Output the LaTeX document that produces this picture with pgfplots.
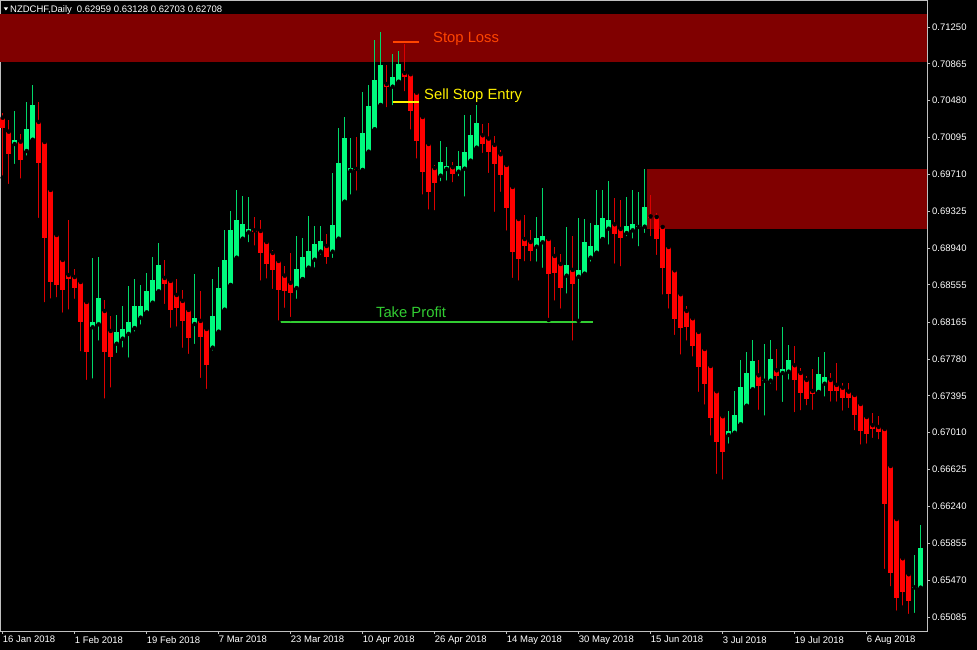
\documentclass[border=0pt]{standalone}
\usepackage{fontspec}
\setmainfont{Liberation Sans}
\usepackage{pgfplots}
\usepackage{pgfplotstable}
\pgfplotsset{compat=1.18}

\definecolor{bull}{RGB}{0,250,125}
\definecolor{bullwick}{RGB}{0,215,105}
\definecolor{bear}{RGB}{255,0,0}
\definecolor{bearwick}{RGB}{220,0,0}
\definecolor{zone}{RGB}{128,0,0}
\definecolor{framecol}{RGB}{192,192,192}
\definecolor{slred}{RGB}{255,69,0}
\definecolor{tpgreen}{RGB}{50,205,50}

% daily bars, x = bar index (0 = 16 Jan 2018)
\pgfplotstableread{
x o h l c
2 0.70027 0.70375 0.69797 0.70069
4 0.69954 0.70469 0.69884 0.70187
5 0.70072 0.70644 0.70065 0.70438
15 0.68112 0.68836 0.67554 0.68170
16 0.68143 0.68843 0.67951 0.68418
19 0.67940 0.68240 0.67822 0.68063
20 0.67993 0.68334 0.67878 0.68094
21 0.68042 0.68546 0.67773 0.68167
22 0.68104 0.68616 0.68045 0.68334
23 0.68212 0.68554 0.68118 0.68334
24 0.68268 0.68682 0.68260 0.68491
25 0.68369 0.68846 0.68360 0.68606
26 0.68488 0.68993 0.68480 0.68763
32 0.68146 0.68669 0.67916 0.68209
35 0.67899 0.68620 0.67846 0.68230
36 0.68066 0.68739 0.68060 0.68519
37 0.68296 0.69129 0.68290 0.68815
38 0.68554 0.69327 0.68550 0.69129
39 0.68839 0.69543 0.68830 0.69233
40 0.69038 0.69484 0.69030 0.69188
41 0.69104 0.69473 0.68979 0.69139
49 0.68522 0.69066 0.68387 0.68721
50 0.68616 0.69045 0.68610 0.68846
51 0.68735 0.69275 0.68693 0.68909
52 0.68818 0.69170 0.68714 0.68982
53 0.68902 0.69170 0.68849 0.69014
55 0.68902 0.69727 0.68815 0.69181
56 0.69038 0.70191 0.69030 0.69826
57 0.69424 0.70309 0.69420 0.70087
58 0.69748 0.70087 0.69477 0.69773
60 0.69756 0.70574 0.69750 0.70145
61 0.69947 0.70644 0.69940 0.70424
62 0.70181 0.71114 0.70175 0.70696
63 0.70435 0.71201 0.70430 0.70853
65 0.70626 0.70968 0.70411 0.70724
66 0.70678 0.70999 0.70670 0.70863
73 0.69696 0.70055 0.69616 0.69839
74 0.69766 0.69993 0.69623 0.69797
76 0.69738 0.69957 0.69669 0.69800
77 0.69769 0.70330 0.69456 0.69944
78 0.69853 0.70330 0.69845 0.70121
79 0.69989 0.70435 0.69980 0.70250
89 0.68954 0.69264 0.68776 0.69045
90 0.69000 0.69567 0.68711 0.69066
94 0.68651 0.69163 0.68442 0.68763
96 0.68640 0.69257 0.68178 0.68714
97 0.68672 0.69243 0.68665 0.69000
98 0.68839 0.69202 0.68776 0.68961
99 0.68891 0.69547 0.68885 0.69181
100 0.69034 0.69547 0.69030 0.69251
101 0.69142 0.69637 0.68954 0.69233
104 0.69097 0.69473 0.69042 0.69170
105 0.69125 0.69547 0.69017 0.69194
106 0.69160 0.69522 0.68937 0.69170
107 0.69163 0.69763 0.69076 0.69369
121 0.66986 0.67237 0.66874 0.67028
122 0.67010 0.67443 0.66994 0.67195
123 0.67098 0.67770 0.67090 0.67488
124 0.67292 0.67857 0.67285 0.67631
125 0.67464 0.67979 0.67455 0.67760
127 0.67553 0.67937 0.67167 0.67563
128 0.67554 0.67979 0.67501 0.67780
130 0.67634 0.68115 0.67310 0.67676
131 0.67648 0.67927 0.67543 0.67770
136 0.67436 0.67798 0.67430 0.67627
137 0.67522 0.67854 0.67366 0.67592
152 0.65393 0.65732 0.65105 0.65403
153 0.65391 0.66046 0.65385 0.65808
}\bulltab

\pgfplotstableread{
x o h l c
0 0.70302 0.70354 0.69675 0.70199
1 0.70156 0.70278 0.69588 0.69923
3 0.70051 0.70132 0.69644 0.69863
6 0.70257 0.70463 0.69233 0.69832
7 0.70048 0.70060 0.68352 0.69048
8 0.69547 0.69560 0.68390 0.68588
9 0.69076 0.69090 0.68404 0.68557
10 0.68815 0.68825 0.68243 0.68505
11 0.68658 0.69233 0.68275 0.68616
12 0.68637 0.68718 0.68387 0.68526
13 0.68585 0.68600 0.67840 0.68170
14 0.68376 0.68394 0.67540 0.67854
17 0.68282 0.68394 0.67345 0.67857
18 0.68073 0.68230 0.67460 0.67805
27 0.68627 0.68815 0.68334 0.68561
28 0.68596 0.68610 0.68084 0.68296
29 0.68449 0.68620 0.68097 0.68317
30 0.68387 0.68502 0.67875 0.68181
31 0.68293 0.68300 0.67812 0.67998
33 0.68178 0.68491 0.67561 0.68014
34 0.68094 0.68105 0.67446 0.67721
42 0.69125 0.69264 0.68944 0.69104
43 0.69118 0.69230 0.68578 0.68891
44 0.69003 0.69010 0.68599 0.68776
45 0.68888 0.68920 0.68491 0.68714
46 0.68805 0.68815 0.68160 0.68505
47 0.68651 0.68752 0.68293 0.68491
48 0.68575 0.68885 0.68198 0.68473
54 0.68961 0.69087 0.68752 0.68849
59 0.69766 0.70100 0.69518 0.69752
64 0.70654 0.70853 0.70390 0.70623
67 0.70769 0.71069 0.70557 0.70731
68 0.70756 0.70760 0.70156 0.70372
69 0.70563 0.70570 0.69853 0.70062
70 0.70309 0.70315 0.69477 0.69738
71 0.70027 0.70035 0.69320 0.69522
72 0.69776 0.69808 0.69313 0.69623
75 0.69784 0.69842 0.69606 0.69714
80 0.70118 0.70233 0.69912 0.70030
81 0.70083 0.70244 0.69703 0.69944
82 0.70017 0.70111 0.69296 0.69821
83 0.69920 0.69961 0.69505 0.69703
84 0.69808 0.69815 0.69100 0.69355
85 0.69578 0.69585 0.68606 0.68902
86 0.69243 0.69250 0.68578 0.68825
87 0.69034 0.69285 0.68780 0.68964
88 0.69003 0.69129 0.68780 0.68909
91 0.69034 0.69040 0.68188 0.68669
92 0.68857 0.68948 0.68369 0.68682
93 0.68773 0.68875 0.68285 0.68526
95 0.68711 0.69066 0.67951 0.68564
102 0.69188 0.69463 0.68755 0.69090
103 0.69139 0.69439 0.68728 0.69048
108 0.69270 0.69494 0.69042 0.69254
109 0.69264 0.69303 0.68846 0.69034
110 0.69160 0.69170 0.68432 0.68735
111 0.68951 0.68960 0.68285 0.68463
112 0.68707 0.68715 0.68010 0.68202
113 0.68457 0.68465 0.67805 0.68108
114 0.68282 0.68334 0.67951 0.68115
115 0.68206 0.68215 0.67784 0.67916
116 0.68063 0.68070 0.67415 0.67700
117 0.67885 0.67892 0.67282 0.67519
118 0.67707 0.67715 0.66958 0.67167
119 0.67443 0.67450 0.66558 0.66916
120 0.67182 0.67190 0.66498 0.66809
126 0.67610 0.67770 0.67227 0.67501
129 0.67662 0.67885 0.67428 0.67600
132 0.67715 0.67919 0.67203 0.67564
133 0.67634 0.67690 0.67223 0.67420
134 0.67561 0.67603 0.67274 0.67362
135 0.67446 0.67676 0.67227 0.67418
138 0.67561 0.67637 0.67313 0.67446
139 0.67509 0.67742 0.67313 0.67446
140 0.67480 0.67526 0.67219 0.67376
141 0.67439 0.67526 0.67247 0.67376
142 0.67404 0.67410 0.67015 0.67195
143 0.67310 0.67318 0.66864 0.67028
144 0.67174 0.67180 0.66874 0.66994
145 0.67088 0.67219 0.66934 0.67049
146 0.67070 0.67188 0.66920 0.67021
147 0.67049 0.67055 0.65565 0.66268
148 0.66662 0.66670 0.65384 0.65544
149 0.66108 0.66115 0.65129 0.65280
150 0.65698 0.65705 0.65182 0.65349
151 0.65531 0.65540 0.65095 0.65255
}\beartab

\pgfplotsset{
  candle/.style n args={3}{only marks, mark=none, forget plot,
    error bars/.cd, y dir=#1, y explicit, error mark=none,
    error bar style={line width=#2, color=#3, line cap=butt}},
}

\begin{document}
\begin{tikzpicture}
\useasboundingbox[fill=black] (0,0) rectangle (977pt,650pt);
\begin{axis}[
  at={(0pt,19pt)}, anchor=south west,
  scale only axis, width=927pt, height=631pt,
  xmin=-0.45, xmax=154.05,
  ymin=0.64938, ymax=0.71532,
  axis line style={framecol, line width=0.8pt},
  tick style={framecol, line width=0.8pt},
  major tick length=3pt,
  tick align=outside,
  xtick pos=left, ytick pos=right, yticklabel pos=right,
  xtick={0,12,...,144},
  xticklabels={16 Jan 2018,1 Feb 2018,19 Feb 2018,7 Mar 2018,23 Mar 2018,10 Apr 2018,26 Apr 2018,14 May 2018,30 May 2018,15 Jun 2018,3 Jul 2018,19 Jul 2018,6 Aug 2018},
  ytick={0.71250,0.70865,0.70480,0.70095,0.69710,0.69325,0.68940,0.68555,0.68165,0.67780,0.67395,0.67010,0.66625,0.66240,0.65855,0.65470,0.65085},
  yticklabels={0.71250,0.70865,0.70480,0.70095,0.69710,0.69325,0.68940,0.68555,0.68165,0.67780,0.67395,0.67010,0.66625,0.66240,0.65855,0.65470,0.65085},
  ticklabel style={font=\fontsize{9.5}{11}\selectfont, text=white},
  xticklabel style={anchor=north west, inner sep=0pt, yshift=-2pt},
  yticklabel style={anchor=west, inner sep=0pt, xshift=2pt},
  /pgf/number format/assume math mode=true,
]
% zones
\addplot[fill=zone, draw=none, forget plot] coordinates {(-0.45,0.70884) (154.05,0.70884) (154.05,0.71386) (-0.45,0.71386)} -- cycle;
\addplot[fill=zone, draw=none, forget plot] coordinates {(107.4,0.69139) (154.05,0.69139) (154.05,0.69766) (107.4,0.69766)} -- cycle;

% wicks
\addplot[candle={plus}{1pt}{bullwick}] table[x=x, y=l, y error plus expr=\thisrow{h}-\thisrow{l}] {\bulltab};
\addplot[candle={plus}{1pt}{bearwick}] table[x=x, y=l, y error plus expr=\thisrow{h}-\thisrow{l}] {\beartab};
% bodies
\addplot[candle={plus}{4.5pt}{bull}] table[x=x, y=o, y error plus expr=\thisrow{c}-\thisrow{o}] {\bulltab};
\addplot[candle={minus}{4.5pt}{bear}] table[x=x, y=o, y error minus expr=\thisrow{o}-\thisrow{c}] {\beartab};

% trade levels
\addplot[slred, line width=2pt, forget plot] coordinates {(65.05,0.71096) (69.4,0.71096)};
\addplot[yellow, line width=2pt, forget plot] coordinates {(65.05,0.70469) (69.4,0.70469)};
\addplot[tpgreen, line width=2pt, forget plot] coordinates {(46.05,0.68162) (98.4,0.68162)};

\node[anchor=base west, inner sep=0pt, text=slred, font=\fontsize{14.8}{17}\selectfont] at (axis cs:71.72,0.71086) {Stop Loss};
\node[anchor=base west, inner sep=0pt, text=yellow, font=\fontsize{14.8}{17}\selectfont] at (axis cs:70.22,0.70497) {Sell Stop Entry};
\node[anchor=base west, inner sep=0pt, text=tpgreen, font=\fontsize{14.8}{17}\selectfont] at (axis cs:62.2,0.68209) {Take Profit};
\end{axis}
\fill[white] (3.8pt,642.5pt) -- (8pt,642.5pt) -- (5.9pt,639.5pt) -- cycle;
\node[anchor=base west, inner sep=0pt, text=white, font=\fontsize{9.5}{11}\selectfont] at (10pt,637.3pt) {NZDCHF,Daily\hspace{5pt}0.62959 0.63128 0.62703 0.62708};
\end{tikzpicture}
\end{document}
